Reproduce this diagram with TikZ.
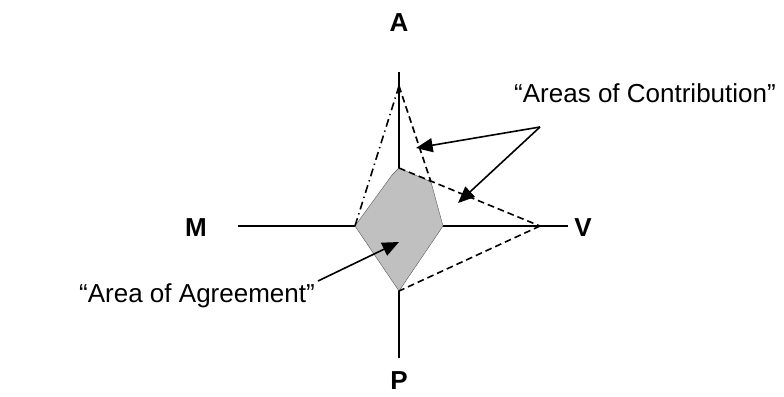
\documentclass[tikz,border=0pt]{standalone}
\usepackage{fontspec}
\setmainfont{Liberation Sans}
\usetikzlibrary{arrows.meta}
\begin{document}
\begin{tikzpicture}[x=0.75pt,y=-0.75pt,
  axis/.style={line width=1.2pt},
  lbl/.style={font=\fontsize{19.5}{23}\selectfont\bfseries, inner sep=0},
  quotetxt/.style={font=\fontsize{19.5}{23}\selectfont, inner sep=0},
  dashln/.style={line width=1.2pt, dash pattern=on 5pt off 3pt},
  dashdotln/.style={line width=1.2pt, dash pattern=on 6pt off 3pt on 1pt off 3pt},
  pointer/.style={line width=1.2pt, -{Triangle[length=12.5pt,width=10.5pt]}}]
\useasboundingbox (0,0) rectangle (784,396);
% coordinates
\coordinate (atop) at (399,72);
\coordinate (pbot) at (399,358);
\coordinate (mleft) at (238,226);
\coordinate (vright) at (568,226);
\coordinate (apex) at (399,86);
\coordinate (vpt) at (540,226);
\coordinate (gtop) at (399,168);
\coordinate (gur) at (431,182);
\coordinate (gr) at (443,226);
\coordinate (gb) at (399,291);
\coordinate (gl) at (355,226);
\coordinate (gul) at (392,175);
% axes
\draw[axis] (atop) -- (pbot);
\draw[axis] (mleft) -- (vright);
% gray area (covers the axes)
\fill[fill={rgb,255:red,192;green,192;blue,192}, draw=gray!70!black, line width=0.3pt]
  (gtop) -- (gur) -- (gr) -- (gb) -- (gl) -- (gul) -- cycle;
% contribution lines
\draw[dashdotln] (apex) -- (gl);
\draw[dashln] (apex) -- (gur);
\draw[dashln] (gtop) -- (vpt);
\draw[dashln] (vpt) -- (gb);
% labels
\node[lbl] (A) at (399,23) {A};
\node[lbl] (M) at (196,228) {M};
\node[lbl] (V) at (583,228) {V};
\node[lbl] (P) at (399,381) {P};
\node[quotetxt] (contrib) at (645,93) {“Areas of Contribution”};
\node[quotetxt] (agree) at (197,296) {“Area of Agreement”};
% pointers
\coordinate (cfrom) at (540,127);
\coordinate (cto1) at (416,148);
\coordinate (cto2) at (458,203);
\coordinate (afrom) at (318,281);
\coordinate (ato) at (399,242);
\draw[pointer] (cfrom) -- (cto1);
\draw[pointer] (cfrom) -- (cto2);
\draw[pointer] (afrom) -- (ato);
\end{tikzpicture}
\end{document}
